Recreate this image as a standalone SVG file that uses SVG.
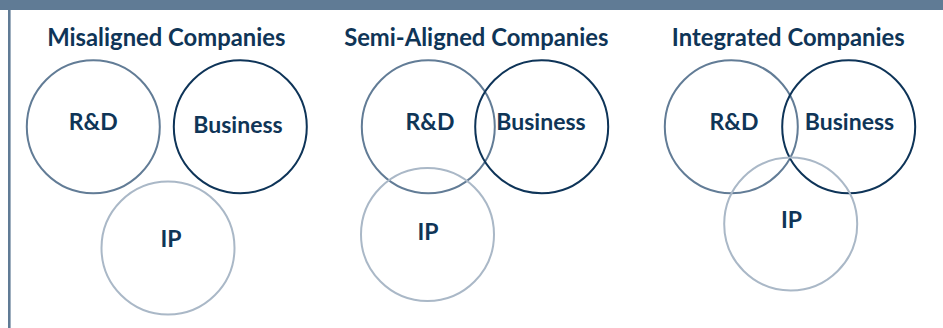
<svg xmlns="http://www.w3.org/2000/svg" width="943" height="328" viewBox="0 0 943 328">
<style>
.title{font-family:Lato,"Liberation Sans",sans-serif;font-weight:700;font-size:23.8px;fill:#0F3557;text-anchor:middle}
.lbl{font-family:Lato,"Liberation Sans",sans-serif;font-weight:700;font-size:23px;fill:#0F3557;text-anchor:middle}
.rd{fill:none;stroke:#627C96;stroke-width:2}
.bus{fill:none;stroke:#0E3458;stroke-width:2}
.ip{fill:none;stroke:#AAB8C7;stroke-width:2}
</style>
<rect x="0" y="0" width="943" height="328" fill="#FFFFFF"/>
<rect x="0" y="0" width="943" height="10" fill="#607B95"/>
<rect x="8" y="10" width="2.6" height="318" fill="#607B95"/>
<g id="misaligned">
<text class="title" x="166.3" y="46">Misaligned Companies</text>
<g id="mis-rd"><circle class="rd" cx="93.3" cy="126.7" r="66.5"/><text class="lbl" x="93.3" y="130">R&amp;D</text></g>
<g id="mis-bus"><circle class="bus" cx="240.3" cy="126.7" r="66.5"/><text class="lbl" x="238" y="133">Business</text></g>
<g id="mis-ip"><circle class="ip" cx="168" cy="248" r="66.5"/><text class="lbl" x="171" y="247">IP</text></g>
</g>
<g id="semi">
<text class="title" x="476.3" y="46">Semi-Aligned Companies</text>
<g id="semi-rd"><circle class="rd" cx="428.3" cy="126.7" r="66.5"/><text class="lbl" x="430" y="130">R&amp;D</text></g>
<g id="semi-bus"><circle class="bus" cx="541.7" cy="126.7" r="66.5"/><text class="lbl" x="541" y="130">Business</text></g>
<g id="semi-ip"><circle class="ip" cx="427.5" cy="234.5" r="66.5"/><text class="lbl" x="428" y="240">IP</text></g>
</g>
<g id="integrated">
<text class="title" x="788.3" y="46">Integrated Companies</text>
<g id="int-rd"><circle class="rd" cx="731.3" cy="126.7" r="66.5"/><text class="lbl" x="734" y="130">R&amp;D</text></g>
<g id="int-bus"><circle class="bus" cx="848.7" cy="126.7" r="66.5"/><text class="lbl" x="849.5" y="130">Business</text></g>
<g id="int-ip"><circle class="ip" cx="790.7" cy="224" r="66.5"/><text class="lbl" x="791.5" y="228">IP</text></g>
</g>
<g id="connectors"/>
</svg>
